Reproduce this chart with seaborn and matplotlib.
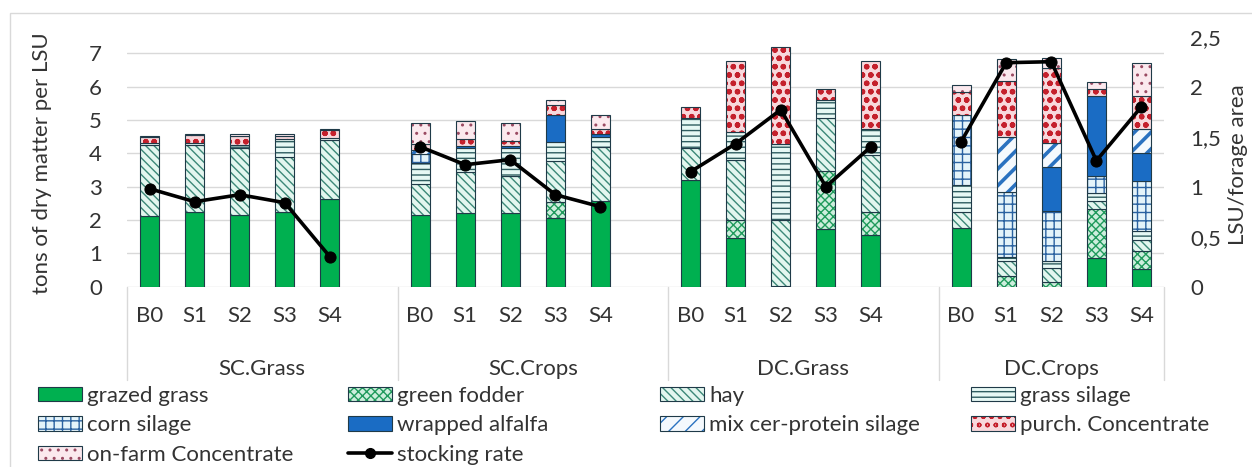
import numpy as np
import pandas as pd
import matplotlib
matplotlib.use("Agg")
import matplotlib.pyplot as plt
import matplotlib.colors as mcolors
from matplotlib.patches import Patch, Rectangle
from matplotlib.lines import Line2D
import seaborn as sns

# ---------------- data ----------------
groups = ["SC.Grass", "SC.Crops", "DC.Grass", "DC.Crops"]
scenarios = ["B0", "S1", "S2", "S3", "S4"]

# one value per bar, order: SC.Grass B0..S4, SC.Crops B0..S4, DC.Grass B0..S4, DC.Crops B0..S4
grazed_grass = [2.12, 2.24, 2.16, 2.24, 2.62,
                2.14, 2.22, 2.22, 2.06, 2.57,
                3.20, 1.47, 0.00, 1.74, 1.54,
                1.77, 0.00, 0.00, 0.87, 0.53]
green_fodder = [0.00, 0.00, 0.00, 0.00, 0.00,
                0.00, 0.00, 0.00, 0.47, 0.00,
                0.00, 0.52, 0.03, 1.73, 0.70,
                0.00, 0.33, 0.13, 1.46, 0.53]
hay = [2.13, 2.01, 2.01, 1.65, 1.79,
       0.93, 1.21, 1.10, 1.25, 1.61,
       0.97, 1.82, 1.96, 1.59, 1.71,
       0.47, 0.45, 0.43, 0.24, 0.35]
grass_silage = [0.05, 0.05, 0.08, 0.54, 0.04,
                0.65, 0.74, 0.85, 0.55, 0.30,
                0.89, 0.83, 2.28, 0.53, 0.78,
                0.82, 0.12, 0.22, 0.25, 0.25]
corn_silage = [0.00, 0.00, 0.00, 0.00, 0.00,
               0.25, 0.00, 0.00, 0.00, 0.00,
               0.00, 0.00, 0.00, 0.00, 0.00,
               2.08, 1.93, 1.50, 0.50, 1.51]
wrapped_alfalfa = [0.00, 0.00, 0.00, 0.00, 0.00,
                   0.00, 0.05, 0.05, 0.83, 0.10,
                   0.00, 0.00, 0.00, 0.00, 0.00,
                   0.00, 0.00, 1.30, 2.39, 0.85]
mix_silage = [0.00, 0.00, 0.00, 0.00, 0.00,
              0.12, 0.00, 0.00, 0.00, 0.00,
              0.00, 0.00, 0.00, 0.00, 0.00,
              0.00, 1.65, 0.74, 0.00, 0.71]
purch_conc = [0.18, 0.25, 0.28, 0.10, 0.25,
              0.20, 0.20, 0.15, 0.30, 0.14,
              0.34, 2.14, 2.91, 0.34, 2.03,
              0.69, 1.68, 2.23, 0.22, 0.98]
onfarm_conc = [0.03, 0.04, 0.04, 0.05, 0.03,
               0.62, 0.54, 0.54, 0.15, 0.44,
               0.00, 0.00, 0.00, 0.00, 0.00,
               0.23, 0.67, 0.31, 0.20, 0.99]
stocking_rate = [0.98, 0.85, 0.92, 0.84, 0.30,
                 1.40, 1.22, 1.27, 0.92, 0.80,
                 1.15, 1.43, 1.77, 1.00, 1.40,
                 1.45, 2.24, 2.25, 1.26, 1.80]

left_ticks = [0, 1, 2, 3, 4, 5, 6, 7]
right_ticks = [0, 0.5, 1, 1.5, 2, 2.5]

# ---------------- styling ----------------
FONT = ["Lato", "DejaVu Sans"]
FS = 16
TXT = "#333333"
EDGE = "#1f3a48"
GRID = "#d9d9d9"
W, H = 1252, 467

sns.set_theme(style="white")
plt.rcParams["font.family"] = FONT
plt.rcParams["hatch.linewidth"] = 1.0

layers = [
    # label, values, face, hatch, hatch colour, hatch linewidth
    ("grazed grass", grazed_grass, "#00b050", None, EDGE, 1.0),
    ("green fodder", green_fodder, "#cdeedd", "xxxx", "#1f9a5c", 1.0),
    ("hay", hay, "#e3f6ef", "\\\\\\\\", "#3c8878", 1.0),
    ("grass silage", grass_silage, "#e6f8f4", "---", "#2f5d60", 1.0),
    ("corn silage", corn_silage, "#e4f4fa", "++", "#2a62a0", 1.0),
    ("wrapped alfalfa", wrapped_alfalfa, "#1a6cc4", None, EDGE, 1.0),
    ("mix cer-protein silage", mix_silage, "#f4f9fd", "//", "#2a72c0", 2.6),
    ("purch. Concentrate", purch_conc, "#f8d8dc", "oo", "#c4202c", 1.6),
    ("on-farm Concentrate", onfarm_conc, "#fbe9ee", "..", "#9a4a62", 1.0),
]


def style_hatch(p, hatch, hc, hlw):
    if hatch is None:
        return
    p.set_hatch(hatch)
    if hasattr(p, "set_hatchcolor"):
        p.set_hatchcolor(hc)
    else:
        p._hatch_color = mcolors.to_rgba(hc)
    if hasattr(p, "set_hatch_linewidth"):
        p.set_hatch_linewidth(hlw)
    else:
        p._hatch_linewidth = hlw


# ---------------- table ----------------
rows = []
for gi, g in enumerate(groups):
    for si, s in enumerate(scenarios):
        rows.append({"group": g, "scenario": s,
                     "pos": gi * (len(scenarios) + 1) + si})
df = pd.DataFrame(rows)
df["stocking_rate"] = stocking_rate

# ---------------- figure ----------------
fig = plt.figure(figsize=(W / 100, H / 100), dpi=100)
ax_left, ax_right_px = 127, 1164
ax_top, ax_bot = 36.7, 286.7
ax = fig.add_axes([ax_left / W, 1 - ax_bot / H, (ax_right_px - ax_left) / W, (ax_bot - ax_top) / H])

bottom = np.zeros(len(df))
for label, vals, face, hatch, hc, hlw in layers:
    vals = np.asarray(vals, dtype=float)
    n_before = len(ax.patches)
    sns.barplot(data=df.assign(v=vals), x="pos", y="v", native_scale=True,
                width=0.42, color=face, saturation=1, errorbar=None,
                edgecolor=EDGE, linewidth=0.8, bottom=bottom, ax=ax)
    for p in ax.patches[n_before:]:
        if p.get_height() <= 0:
            p.set_visible(False)
            continue
        style_hatch(p, hatch, hc, hlw)
    bottom = bottom + vals

npos = df["pos"].to_numpy()
ax.set_xlim(npos.min() - 0.5, npos.max() + 0.5)
ax.set_ylim(0, 7.5)
ax.set_yticks(left_ticks)
ax.yaxis.grid(True, color=GRID, linewidth=1.0)
ax.xaxis.grid(False)
ax.set_axisbelow(True)
for sp in ax.spines.values():
    sp.set_visible(False)
ax.set_xlabel("")
ax.set_ylabel("")
ax.set_xticks(npos)
ax.set_xticklabels(df["scenario"])
ax.tick_params(axis="x", length=0, pad=14, labelsize=FS, labelcolor=TXT)
ax.tick_params(axis="y", length=0, pad=18, labelsize=FS, labelcolor=TXT)

# group labels and separators in the category axis
sep_depth = (380 - ax_bot) / (ax_bot - ax_top)
bounds = [gi * (len(scenarios) + 1) - 0.5 for gi in range(len(groups))] + [npos.max() + 0.5]
for b in bounds:
    ax.plot([b, b], [0, -sep_depth], transform=ax.get_xaxis_transform(),
            color=GRID, lw=1.0, clip_on=False)
for gi, g in enumerate(groups):
    ctr = (bounds[gi] + bounds[gi + 1]) / 2
    ax.annotate(g, xy=(ctr, 0), xycoords=("data", "axes fraction"),
                xytext=(0, -(369 - ax_bot) * 0.72), textcoords="offset points",
                ha="center", va="center", fontsize=FS, color=TXT)

# secondary axis: stocking rate
ax2 = ax.twinx()
sns.lineplot(data=df, x="pos", y="stocking_rate", units="group", estimator=None,
             color="black", linewidth=2.6, marker="o", markersize=8,
             markeredgecolor="black", ax=ax2)
ax2.set_ylim(0, 2.5)
ax2.set_yticks(right_ticks)
ax2.set_yticklabels([f"{t:g}".replace(".", ",") for t in right_ticks])
ax2.tick_params(axis="y", length=0, pad=19, labelsize=FS, labelcolor=TXT)
ax2.set_xlim(npos.min() - 0.5, npos.max() + 0.5)
ax2.set_xlabel("")
ax2.set_ylabel("")
ax2.grid(False)
for sp in ax2.spines.values():
    sp.set_visible(False)

# axis titles
fig.text(42 / W, 1 - 163 / H, "tons of dry matter per LSU", rotation=90,
         ha="center", va="center", fontsize=FS, color=TXT)
fig.text(1238 / W, 1 - 165 / H, "LSU/forage area", rotation=90,
         ha="center", va="center", fontsize=FS, color=TXT)

# legend (four columns filled row by row)
handles = []
for label, vals, face, hatch, hc, hlw in layers:
    h = Patch(facecolor=face, edgecolor=EDGE, linewidth=0.8, label=label)
    style_hatch(h, hatch, hc, hlw)
    handles.append(h)
handles.append(Line2D([0], [0], color="black", lw=2.6, marker="o", markersize=7,
                      label="stocking rate"))
col_x = [38, 348, 660, 971]
for c, x in enumerate(col_x):
    hs = handles[c::4]
    fig.legend(handles=hs, labels=[h.get_label() for h in hs],
               loc="upper left", bbox_to_anchor=(x / W, 1 - 386 / H),
               frameon=False, fontsize=FS, labelcolor=TXT, borderpad=0,
               borderaxespad=0, handlelength=2.0, handleheight=0.6,
               handletextpad=0.2, labelspacing=0.42)

# chart border
fig.add_artist(Rectangle((10 / W, -0.1), 1.2, 1 - 13 / H + 0.1, fill=False,
                         edgecolor=GRID, lw=1.0, transform=fig.transFigure))

fig.savefig("out.png", dpi=100)
